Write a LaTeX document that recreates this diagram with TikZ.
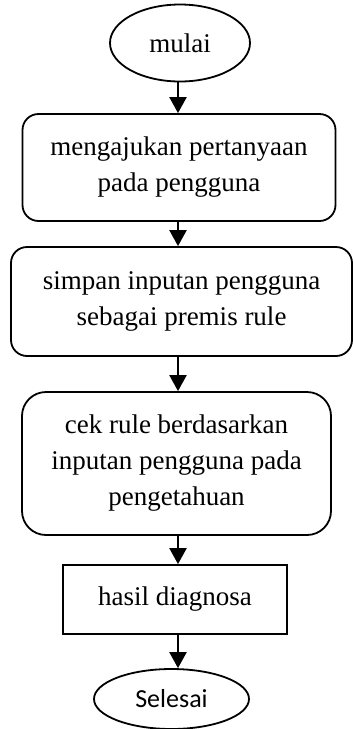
\documentclass[tikz,border=0pt]{standalone}
\usepackage{fontspec}
\setmainfont{Liberation Serif}
\newfontfamily\calibri{Carlito}
\usetikzlibrary{arrows.meta,shapes.geometric}

\tikzset{
  every node/.style={font=\fontsize{27}{36}\selectfont},
  terminal/.style={ellipse,draw,line width=1.8pt,inner sep=0pt},
  process/.style={rectangle,draw,line width=1.8pt,align=center,inner sep=0pt},
  flow/.style={line width=2.2pt,-{Triangle[length=16pt,width=17pt]}}
}

\begin{document}
\begin{tikzpicture}[x=1pt,y=1pt]
  \useasboundingbox (0,0) rectangle (353,-729);

  \coordinate (spine) at (178,0);

  \node[terminal,minimum width=140,minimum height=77] (mulai) at (180,-43) {mulai};
  \node[process,rounded corners=16,minimum width=313,minimum height=107] (tanya) at (179,-167.5)
       {mengajukan pertanyaan\\pada pengguna};
  \node[process,rounded corners=16,minimum width=341,minimum height=109] (simpan) at (181.5,-301.5)
       {simpan inputan pengguna\\sebagai premis rule};
  \node[process,rounded corners=24,minimum width=309,minimum height=143] (cek) at (176.5,-463.5)
       {cek rule berdasarkan\\inputan pengguna pada\\pengetahuan};
  \node[process,minimum width=224,minimum height=69] (hasil) at (175,-599.5) {hasil diagnosa};
  \node[terminal,minimum width=155,minimum height=60,font=\calibri\fontsize{26}{30}\selectfont]
       (selesai) at (171.5,-699) {Selesai};

  \foreach \from/\to in {mulai/tanya,tanya/simpan,simpan/cek,cek/hasil,hasil/selesai}
    \draw[flow] (\from.south -| spine) -- (\to.north -| spine);
\end{tikzpicture}
\end{document}
